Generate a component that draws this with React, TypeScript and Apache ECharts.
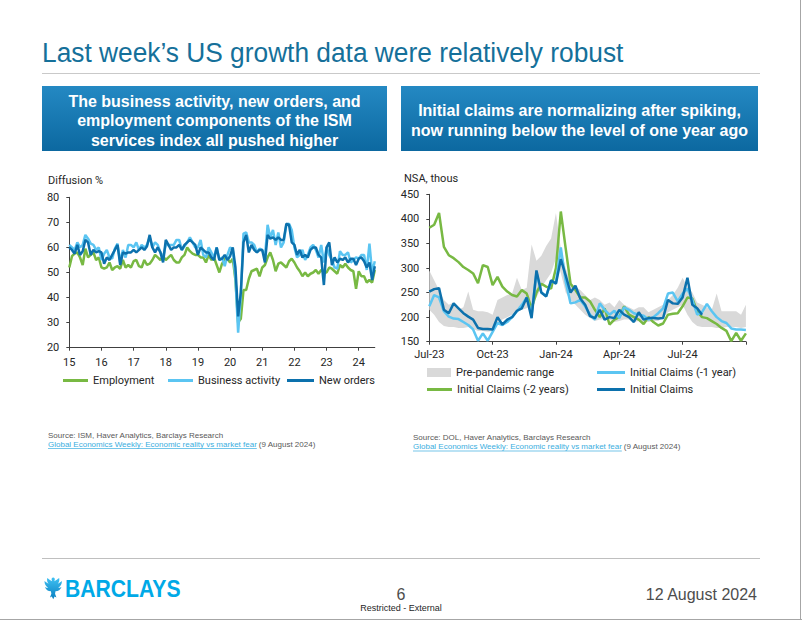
import React, { useEffect, useRef } from 'react';
import * as echarts from 'echarts';

// ---------- Left chart: ISM services components (monthly, Jan 2015 - Jul 2024) ----------
const START_YEAR = 2015;
const yearTickLabels = ['15', '16', '17', '18', '19', '20', '21', '22', '23', '24'];
const employment = [
  52, 56.5, 57.5, 58, 56, 53, 59.5, 56, 57, 58, 55, 56,
  52, 51.5, 52, 54, 51, 52, 52.5, 51.5, 55, 52, 53, 52,
  54.5, 55, 52.5, 52, 55, 53, 53.5, 55, 57, 56, 55, 56.5,
  55, 56, 57, 55, 54, 54, 56, 57, 60, 58.5, 57.5, 57,
  57, 56, 56, 54, 57, 55, 56, 53, 50, 53.5, 55.5, 55.5,
  54, 55.5, 47, 30, 31.5, 43, 43, 47.5, 50.5, 51, 51.5, 48.5,
  52, 53, 56, 58, 55, 50.5, 53.5, 54, 53, 52, 54.5, 55.5,
  54, 52, 50.5, 48.5, 50, 48.5, 49.5, 50, 51, 49.5, 51, 50,
  50, 52, 51.5, 50.5, 49.5, 53, 52, 53.5, 52, 51, 50.5, 43.5,
  50.5, 48.5, 48.5, 46, 47, 46, 51,
];
const businessActivity = [
  61, 60, 59, 62, 60, 61, 65, 63.5, 61.5, 61, 59, 60,
  55, 57.5, 59, 56, 55.5, 59.5, 61.5, 54, 59, 56, 61, 61,
  60, 62, 59, 61, 60, 61, 64, 60, 62, 61, 58, 56,
  61, 61, 61, 61, 63, 63, 59, 60.5, 62, 64, 62, 60,
  60, 63, 57, 56, 60, 58, 56, 60, 55, 56, 52.5, 57,
  60, 59, 48, 26, 41, 65.5, 66, 62, 62, 61, 58, 59.5,
  59, 56, 69, 64, 67, 61, 66, 60, 62, 69, 69.5, 67,
  60, 56, 57, 59, 55, 57, 60, 61, 59, 56, 61, 54,
  60, 57, 55, 52, 51.5, 58.5, 57, 57, 58, 54, 55, 56,
  55.5, 57, 57, 51, 61.5, 50, 54.5,
];
const newOrders = [
  60, 59, 57.5, 61, 57, 58.5, 63, 62, 57, 59, 58, 58.5,
  58, 53.5, 56, 55, 57, 59, 61, 53, 58, 57.5, 58, 58,
  59, 58, 59, 60, 59, 60.5, 65, 60, 58, 60, 58, 54,
  63, 61, 59, 60, 60, 61, 59, 61, 62, 63, 62, 61,
  57, 60, 59, 58, 58, 56, 55, 60, 55, 55.5, 57, 55,
  56.5, 60, 52, 32.5, 42, 62, 65, 58, 61, 59, 58, 59,
  59, 54, 65, 63.5, 64, 63, 64, 63, 63, 69.5, 69, 62,
  61, 57, 59, 56, 57, 56, 59, 60, 60, 57, 56, 45,
  60, 62, 53, 56, 54, 55.5, 55, 56, 54, 55.5, 55.5, 53,
  55.5, 56, 54.5, 52, 54, 47, 52.5,
];

// ---------- Right chart: initial claims (weekly, from early Jul 2023) ----------
const weekTickLabels = ['Jul-23', 'Oct-23', 'Jan-24', 'Apr-24', 'Jul-24'];
const rangeLow = [
  215, 205, 190, 182, 180, 180, 178, 178, 180, 176,
  172, 172, 170, 172, 185, 195, 200, 205, 210, 215,
  218, 225, 240, 260, 275, 290, 320, 290, 250, 235,
  225, 215, 205, 198, 192, 195, 195, 195, 190, 192,
  195, 195, 190, 192, 190, 190, 192, 192, 200, 210,
  215, 220, 225, 205, 190, 182, 180, 180, 180, 178,
  178, 180, 180, 180, 178, 180,
];
const rangeHigh = [
  295, 275, 255, 235, 225, 230, 215, 220, 252, 215,
  212, 212, 210, 205, 235, 240, 245, 248, 280, 255,
  260, 348, 315, 325, 345, 360, 412, 340, 300, 270,
  262, 255, 245, 235, 240, 235, 225, 230, 220, 235,
  225, 220, 215, 220, 220, 210, 215, 220, 225, 235,
  245, 260, 280, 262, 250, 230, 225, 220, 215, 248,
  212, 212, 212, 212, 205, 225,
];
const claimsMinus2y = [
  382, 388, 412, 343, 326, 320, 312, 302, 296, 289,
  269, 306, 302, 265, 282, 262, 252, 245, 242, 255,
  248, 218, 250, 268, 262, 258, 300, 415, 340, 268,
  255, 240, 240, 232, 215, 200, 218, 185, 195, 200,
  222, 205, 200, 195, 186, 200, 190, 183, 187, 205,
  207, 208, 222, 240, 238, 212, 200, 198, 192, 186,
  178, 172, 151, 168, 152, 167,
];
const claimsMinus1y = [
  222, 245, 240, 212, 201, 197, 196, 190, 184, 175,
  152, 167, 152, 170, 188, 184, 190, 200, 212, 225,
  240, 205, 290, 250, 243, 273, 270, 342, 272, 228,
  230, 235, 222, 205, 195, 228, 215, 205, 213, 198,
  220, 215, 208, 205, 203, 195, 200, 208, 218, 248,
  250, 232, 248, 258, 235, 205, 210, 227, 212, 200,
  192, 188, 177, 175, 175, 174,
];
const initialClaims = [
  252, 257, 259, 215, 208, 228, 218, 208, 201, 195,
  178, 176, 176, 175, 200, 185, 195, 200, 213, 218,
  240, 198, 295, 250, 242, 275, 268, 318, 285, 250,
  264, 238, 225, 202, 198, 215, 195, 200, 198, 215,
  205, 200, 190, 210, 195, 198, 198, 197, 198, 235,
  228, 227, 240, 280, 225, 218, 205,
];

const TITLE = 'Last week\u2019s US growth data were relatively robust';
const LEFT_BOX = ['The business activity, new orders, and', 'employment components of the ISM', 'services index all pushed higher'];
const RIGHT_BOX = ['Initial claims are normalizing after spiking,', 'now running below the level of one year ago'];

const GREEN = '#78b943';
const LIGHT = '#5bc5f2';
const DARK = '#0c71ad';
const GREY = '#d9d9d9';
const SANS = '"Liberation Sans", Arial, sans-serif';
const CHART_FONT = 'Roboto, "Noto Sans", sans-serif';

const EAGLE =
  'M10 0 C8.6 0 8 1.2 8.3 2.4 L8.8 4 C7 3 5 1.5 3.5 0.5 C3 3 3.5 5 5 6.5 C3.5 6 2 5 0.5 3.8 C0.5 7 2 9.5 4.5 11 C3.5 11 2 10.6 1 10 C2 13 4.5 14.5 7.5 14.5 L8 17 L6.5 21 L8.5 20 L10 23 L11.5 20 L13.5 21 L12 17 L12.5 14.5 C15.5 14.5 18 13 19 10 C18 10.6 16.5 11 15.5 11 C18 9.5 19.5 7 19.5 3.8 C18 5 16.5 6 15 6.5 C16.5 5 17 3 16.5 0.5 C15 1.5 13 3 11.2 4 L11.7 2.4 C12 1.2 11.4 0 10 0 Z';
echarts.graphic.registerShape('eagle', echarts.graphic.extendPath(EAGLE, {}));

function measure(text: string, font: string): number {
  const ctx = document.createElement('canvas').getContext('2d');
  if (!ctx) return text.length * 4.5;
  ctx.font = font;
  return ctx.measureText(text).width;
}

function txt(x: number, y: number, text: string, font: string, fill: string, align = 'left', extra: any = {}) {
  return {
    type: 'text',
    x,
    y,
    silent: true,
    ...extra,
    style: { text, font, fill, align, textAlign: align, verticalAlign: 'middle', textVerticalAlign: 'middle' },
  };
}

export default function App() {
  const ref = useRef<HTMLDivElement>(null);

  useEffect(() => {
    if (!ref.current) return;
    const chart = echarts.init(ref.current, null, { renderer: 'svg' });

    const months = employment.map((_, i) => `${START_YEAR + Math.floor(i / 12)}-${String((i % 12) + 1).padStart(2, '0')}`);
    const weeks = rangeLow.map((_, i) => {
      const d = new Date(Date.UTC(2023, 6, 1) + i * 7 * 86400000);
      return d.toISOString().slice(0, 10);
    });
    const rangeSpan = rangeHigh.map((h, i) => h - rangeLow[i]);

    const axisLine = { show: true, lineStyle: { color: '#404040', width: 1 } };
    const axisLabel = { color: '#262626', fontFamily: CHART_FONT, fontSize: 11 };

    const legendBase = {
      orient: 'horizontal',
      padding: 0,
      icon: 'rect',
      itemWidth: 25,
      itemHeight: 3,
      itemGap: 0,
      selectedMode: false,
      itemStyle: { borderWidth: 0 },
      textStyle: { fontFamily: CHART_FONT, fontSize: 11, color: '#262626', padding: [0, 0, 0, 0] },
    };

    const lineSeries = (name: string, data: number[], color: string, axis: number, z = 2) => ({
      name,
      type: 'line',
      data,
      xAxisIndex: axis,
      yAxisIndex: axis,
      color,
      symbol: 'none',
      showSymbol: false,
      lineStyle: { width: 2.5, color },
      z,
    });

    const srcFont = `8px ${SANS}`;
    const linkText = 'Global Economics Weekly: Economic reality vs market fear';
    const linkW = measure(linkText, srcFont);

    const sourceBlock = (x: number, y1: number, y2: number, src: string) => [
      txt(x, y1, src, srcFont, '#595959'),
      txt(x, y2, linkText, srcFont, '#3aaee0'),
      { type: 'line', silent: true, shape: { x1: x, y1: y2 + 4.5, x2: x + linkW, y2: y2 + 4.5 }, style: { stroke: '#3aaee0', lineWidth: 0.7 } },
      txt(x + linkW + 2, y2, '(9 August 2024)', srcFont, '#595959'),
    ];

    const boxGrad = new echarts.graphic.LinearGradient(0, 0, 0, 1, [
      { offset: 0, color: '#2489c3' },
      { offset: 1, color: '#0c68a0' },
    ]);
    const boxFont = `bold 16px ${SANS}`;

    const option: any = {
      animation: false,
      backgroundColor: '#ffffff',
      grid: [
        { left: 69.3, top: 197.3, width: 305.5, height: 150.4, containLabel: false },
        { left: 429.3, top: 194.3, width: 316.6, height: 147.4, containLabel: false },
      ],
      xAxis: [
        {
          type: 'category',
          gridIndex: 0,
          data: months,
          boundaryGap: false,
          axisLine,
          axisTick: { show: true, length: 3, interval: (i: number) => i % 12 === 0, lineStyle: { color: '#404040' } },
          axisLabel: {
            ...axisLabel,
            margin: 9,
            interval: (i: number) => i % 12 === 0,
            formatter: (_v: string, i: number) => yearTickLabels[Math.floor(i / 12)] ?? '',
          },
          splitLine: { show: false },
        },
        {
          type: 'category',
          gridIndex: 1,
          data: weeks,
          boundaryGap: false,
          axisLine,
          axisTick: { show: true, length: 3, interval: (i: number) => i % 13 === 0, lineStyle: { color: '#404040' } },
          axisLabel: {
            ...axisLabel,
            margin: 7,
            interval: (i: number) => i % 13 === 0,
            formatter: (_v: string, i: number) => weekTickLabels[Math.floor(i / 13)] ?? '',
          },
          splitLine: { show: false },
        },
      ],
      yAxis: [
        {
          type: 'value',
          gridIndex: 0,
          min: 20,
          max: 80,
          interval: 10,
          axisLine,
          axisTick: { show: true, length: 3, lineStyle: { color: '#404040' } },
          axisLabel: { ...axisLabel, margin: 10 },
          splitLine: { show: false },
        },
        {
          type: 'value',
          gridIndex: 1,
          min: 150,
          max: 450,
          interval: 50,
          axisLine,
          axisTick: { show: true, length: 3, lineStyle: { color: '#404040' } },
          axisLabel: { ...axisLabel, margin: 10 },
          splitLine: { show: false },
        },
      ],
      legend: [
        { ...legendBase, left: 63, top: 375, data: ['Employment'] },
        { ...legendBase, left: 168, top: 375, data: ['Business activity'] },
        { ...legendBase, left: 287, top: 375, itemWidth: 27, data: ['New orders'] },
        { ...legendBase, left: 427, top: 367, itemWidth: 24, itemHeight: 9, data: ['Pre-pandemic range'] },
        { ...legendBase, left: 597, top: 367, itemWidth: 28, data: ['Initial Claims (-1 year)'] },
        { ...legendBase, left: 427, top: 384, data: ['Initial Claims (-2 years)'] },
        { ...legendBase, left: 597, top: 384, itemWidth: 28, data: ['Initial Claims'] },
      ],
      series: [
        lineSeries('Employment', employment, GREEN, 0, 2),
        lineSeries('Business activity', businessActivity, LIGHT, 0, 3),
        lineSeries('New orders', newOrders, DARK, 0, 4),
        {
          name: 'rangeBase',
          type: 'line',
          data: rangeLow,
          xAxisIndex: 1,
          yAxisIndex: 1,
          stack: 'range',
          symbol: 'none',
          showSymbol: false,
          lineStyle: { width: 0, opacity: 0 },
          z: 1,
        },
        {
          name: 'Pre-pandemic range',
          type: 'line',
          data: rangeSpan,
          xAxisIndex: 1,
          yAxisIndex: 1,
          stack: 'range',
          color: GREY,
          symbol: 'none',
          showSymbol: false,
          lineStyle: { width: 0, opacity: 0 },
          areaStyle: { color: GREY, opacity: 1 },
          z: 1,
        },
        lineSeries('Initial Claims (-2 years)', claimsMinus2y, GREEN, 1, 2),
        lineSeries('Initial Claims (-1 year)', claimsMinus1y, LIGHT, 1, 3),
        lineSeries('Initial Claims', initialClaims, DARK, 1, 4),
      ],
      graphic: {
        elements: [
          { type: 'line', silent: true, shape: { x1: 800.5, y1: 0, x2: 800.5, y2: 620 }, style: { stroke: '#a6a6a6', lineWidth: 1 } },
          { type: 'line', silent: true, shape: { x1: 0, y1: 619.5, x2: 802, y2: 619.5 }, style: { stroke: '#a6a6a6', lineWidth: 1 } },
          txt(42, 52, TITLE, `28px ${SANS}`, '#15709a', 'left', { scaleX: 0.94 }),
          { type: 'line', silent: true, shape: { x1: 42, y1: 73.5, x2: 760, y2: 73.5 }, style: { stroke: '#c9c9c9', lineWidth: 1 } },
          { type: 'rect', silent: true, shape: { x: 42, y: 86, width: 345, height: 65 }, style: { fill: boxGrad } },
          { type: 'rect', silent: true, shape: { x: 401, y: 86, width: 357, height: 65 }, style: { fill: boxGrad } },
          ...LEFT_BOX.map((t, i) => txt(214.5, 101 + i * 19.5, t, boxFont, '#ffffff', 'center')),
          ...RIGHT_BOX.map((t, i) => txt(579.5, 110 + i * 20, t, boxFont, '#ffffff', 'center')),
          txt(48, 180, 'Diffusion %', `11px ${CHART_FONT}`, '#262626'),
          txt(404, 178, 'NSA, thous', `11px ${CHART_FONT}`, '#262626'),
          ...sourceBlock(48, 435, 444, 'Source: ISM, Haver Analytics, Barclays Research'),
          ...sourceBlock(413, 437, 446.5, 'Source: DOL, Haver Analytics, Barclays Research'),
          { type: 'line', silent: true, shape: { x1: 42, y1: 558.5, x2: 760, y2: 558.5 }, style: { stroke: '#bfbfbf', lineWidth: 1 } },
          {
            type: 'eagle',
            silent: true,
            x: 44,
            y: 577.5,
            scaleX: 0.92,
            scaleY: 0.95,
            style: {
              fill: new echarts.graphic.LinearGradient(0, 0, 0, 1, [
                { offset: 0, color: '#3fc1f3' },
                { offset: 1, color: '#0a7fc0' },
              ]),
            },
          },
          txt(65, 589, 'BARCLAYS', `bold 23.5px ${SANS}`, '#00a9e7', 'left', { scaleX: 0.9 }),
          txt(401, 594, '6', `16px ${SANS}`, '#4d4d4d', 'center'),
          txt(401, 608, 'Restricted - External', `9px ${SANS}`, '#262626', 'center'),
          txt(757, 594, '12 August 2024', `16px ${SANS}`, '#4d4d4d', 'right'),
        ],
      },
    };

    chart.setOption(option);
    return () => chart.dispose();
  }, []);

  return (
    <div
      ref={ref}
      style={{ position: 'fixed', left: 0, top: 0, width: 802, height: 620, background: '#ffffff' }}
    />
  );
}
